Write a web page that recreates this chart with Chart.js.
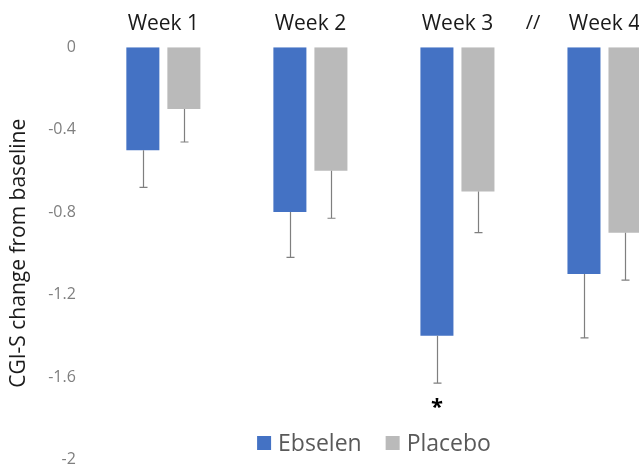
<!DOCTYPE html>
<html>
<head>
<meta charset="utf-8">
<script src="https://cdn.jsdelivr.net/npm/chart.js@4.4.1/dist/chart.umd.min.js"></script>
<style>
  html, body { margin: 0; padding: 0; background: #fff; overflow: hidden; }
  #wrap { width: 748px; height: 483px; }
</style>
</head>
<body>
<div id="wrap"><canvas id="cgiChart"></canvas></div>
<script>
const weeks = ['Week 1', 'Week 2', 'Week 3', 'Week 4'];
const ebselen = [-0.5, -0.8, -1.4, -1.1];
const placebo = [-0.3, -0.6, -0.7, -0.9];
const ebselenErr = [0.18, 0.22, 0.23, 0.31];
const placeboErr = [0.16, 0.23, 0.2, 0.23];
const significant = [false, false, true, false]; // asterisk under Ebselen bar
const breakAfter = 2; // "//" drawn between Week 3 and Week 4

const FONT = "'Open Sans', 'Noto Sans', sans-serif";

// downward error bars with small caps
const errorBars = {
  id: 'errorBars',
  afterDatasetsDraw(chart) {
    const ctx = chart.ctx;
    const y = chart.scales.y;
    ctx.save();
    ctx.strokeStyle = '#7f7f7f';
    ctx.lineWidth = 1.2;
    chart.data.datasets.forEach((ds, i) => {
      const meta = chart.getDatasetMeta(i);
      meta.data.forEach((bar, j) => {
        const v = ds.data[j];
        const e = ds.errors[j];
        const y1 = y.getPixelForValue(v);
        const y2 = y.getPixelForValue(v - e);
        const x = Math.round(bar.x) + 0.5;
        ctx.beginPath();
        ctx.moveTo(x, y1);
        ctx.lineTo(x, y2);
        ctx.moveTo(x - 4, y2);
        ctx.lineTo(x + 4, y2);
        ctx.stroke();
      });
    });
    ctx.restore();
  }
};

// asterisk, axis break and bottom legend
const extras = {
  id: 'extras',
  afterDraw(chart) {
    const ctx = chart.ctx;
    const x = chart.scales.x;
    const y = chart.scales.y;
    ctx.save();

    const meta = chart.getDatasetMeta(0);
    ctx.fillStyle = '#000';
    ctx.font = 'bold 22px ' + FONT;
    ctx.textAlign = 'center';
    ctx.textBaseline = 'middle';
    significant.forEach((s, j) => {
      if (!s) return;
      const yy = y.getPixelForValue(ebselen[j] - ebselenErr[j]);
      ctx.fillText('*', meta.data[j].x, yy + 25);
    });

    const bx = (x.getPixelForValue(breakAfter) + x.getPixelForValue(breakAfter + 1)) / 2;
    ctx.fillStyle = '#1a1a1a';
    ctx.font = '20px ' + FONT;
    ctx.fillText('//', bx + 2, 23);

    // legend
    ctx.font = '23px ' + FONT;
    ctx.textAlign = 'left';
    const box = 14, gap = 7, between = 24;
    const items = chart.data.datasets.map(ds => ({
      label: ds.label, color: ds.backgroundColor, w: box + gap + ctx.measureText(ds.label).width
    }));
    const total = items.reduce((a, it) => a + it.w, 0) + between * (items.length - 1);
    let lx = chart.width / 2 - total / 2;
    const ly = 443;
    items.forEach(it => {
      ctx.fillStyle = it.color;
      ctx.fillRect(lx, ly - box / 2, box, box);
      ctx.fillStyle = '#595959';
      ctx.fillText(it.label, lx + box + gap, ly + 1);
      lx += it.w + between;
    });
    ctx.restore();
  }
};

new Chart(document.getElementById('cgiChart'), {
  type: 'bar',
  data: {
    labels: weeks,
    datasets: [
      {
        label: 'Ebselen',
        data: ebselen,
        errors: ebselenErr,
        backgroundColor: '#4472c4',
        borderWidth: 0,
        barPercentage: 0.805,
        categoryPercentage: 0.558,
      },
      {
        label: 'Placebo',
        data: placebo,
        errors: placeboErr,
        backgroundColor: '#bababa',
        borderWidth: 0,
        barPercentage: 0.805,
        categoryPercentage: 0.558,
      },
    ],
  },
  options: {
    responsive: true,
    maintainAspectRatio: false,
    animation: false,
    layout: { padding: { top: 0, right: 70, bottom: 0, left: 6 } },
    plugins: {
      legend: { display: false },
      tooltip: { enabled: false },
    },
    scales: {
      x: {
        position: 'top',
        grid: { display: false, drawTicks: false },
        border: { display: false },
        ticks: {
          color: '#1a1a1a',
          font: { family: FONT, size: 21 },
          padding: 11,
        },
      },
      y: {
        min: -2,
        max: 0,
        grid: { display: false, drawTicks: false },
        border: { display: false },
        ticks: {
          stepSize: 0.4,
          color: '#7f7f7f',
          font: { family: FONT, size: 16 },
          padding: 14,
          callback: (v) => String(Number(v.toFixed(1))),
        },
        title: {
          display: true,
          text: 'CGI-S change from baseline',
          color: '#1a1a1a',
          font: { family: FONT, size: 21 },
          padding: { top: 0, bottom: 3 },
        },
      },
    },
  },
  plugins: [errorBars, extras],
});
</script>
</body>
</html>
